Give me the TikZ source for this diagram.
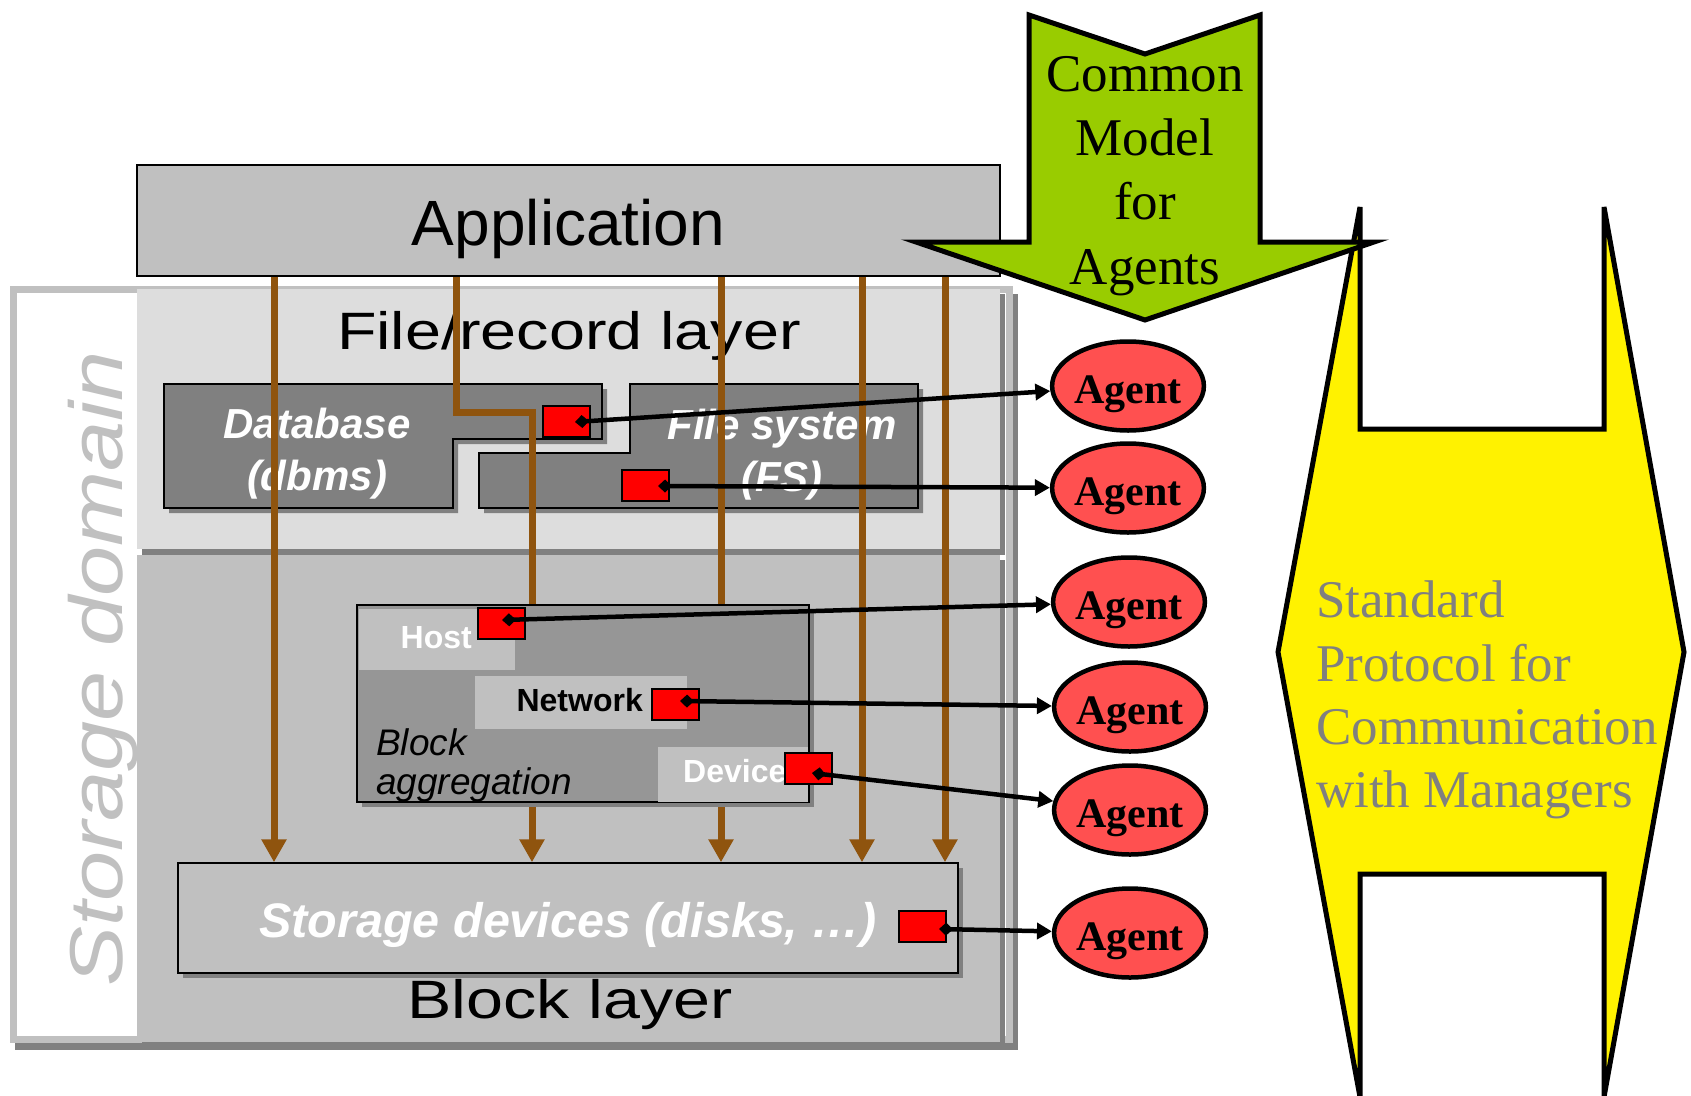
\documentclass[tikz,border=0pt]{standalone}
\usepackage{fontspec}
\setmainfont{Liberation Serif}
\setsansfont{Liberation Sans}
\newfontfamily\widesans[FakeStretch=1.23]{Liberation Sans}
\newfontfamily\domainsans[FakeStretch=1.2]{Liberation Sans}
\usetikzlibrary{arrows.meta,shapes.geometric,shadows}
\definecolor{brn}{RGB}{143,84,14}
\definecolor{lgray}{HTML}{C0C0C0}
\definecolor{dgray}{HTML}{808080}
\definecolor{pgray}{HTML}{DDDDDD}
\definecolor{mgray}{HTML}{969696}
\definecolor{grn}{HTML}{99CC00}
\definecolor{agentred}{HTML}{FF5050}
\newcommand{\fsz}[2]{\fontsize{#1}{#2}\selectfont}
\begin{document}
\begin{tikzpicture}[x=1pt,y=-1pt,
  shd/.style={drop shadow={shadow xshift=5pt,shadow yshift=-5pt,opacity=1,fill=dgray,draw=none}},
  brarrow/.style={draw=brn,line width=7pt,-{Triangle[length=23pt,width=24pt]}},
  conn/.style={draw=black,line width=4.5pt,{Diamond[length=14pt,width=13pt]}-{Triangle[length=15pt,width=16pt]}},
  agent/.style={ellipse,draw=black,line width=4.5pt,fill=agentred,minimum width=150pt,minimum height=89pt,inner sep=0pt,font=\bfseries\fsz{42}{42},text height=34pt,text depth=0pt},
  redsq/.style={rectangle,draw=black,fill=red,line width=2pt,inner sep=0pt,minimum width=47pt,minimum height=31pt},
  bx/.style={rectangle,draw=black,line width=1.5pt,inner sep=0pt},
  lbl/.style={inner sep=0pt,font=\sffamily\bfseries\fsz{32}{32}},
]
\useasboundingbox (0,0) rectangle (1691,1095);

% yellow double arrow
\draw[line width=5pt,fill=yellow] (1360,207) -- (1360,429) -- (1604,429) -- (1604,207) -- (1684,652) -- (1604,1097) -- (1604,874) -- (1360,874) -- (1360,1097) -- (1278,652) -- cycle;
\node[anchor=west,align=left,inner sep=0pt,text=dgray,font=\fsz{53}{63.3}] (proto) at (1316,700) {Standard\\Protocol for\\Communication\\with Managers};

% storage domain frame
\fill[dgray] (15,294) rectangle (1018,1050);
\draw[line width=7pt,draw=lgray,fill=white] (13.5,289.5) rectangle (1009,1039.5);
\node[rotate=90,anchor=base west,inner sep=0pt,text=lgray,font=\domainsans\itshape\fsz{75}{75}] (sdom) at (122,987) {Storage domain};

% layer panels
\fill[dgray] (142,294) rectangle (1005,555);
\fill[pgray] (137,289) rectangle (1000,549);
\fill[dgray] (142,560) rectangle (1005,1047);
\fill[lgray] (137,555) rectangle (1000,1042);

% application
\node[bx,fill=lgray,minimum width=863pt,minimum height=111pt,font=\sffamily\fsz{64}{64},text height=49pt,text depth=0pt] (app) at (568.5,220.5) {Application};

% layer labels
\node[anchor=base,inner sep=0pt,font=\widesans\fsz{52.6}{52.6}] (frl) at (569,349) {File/record layer};
\node[anchor=base,inner sep=0pt,font=\widesans\fsz{54}{54}] (bl) at (570,1018) {Block layer};

% database and file system
\fill[dgray,xshift=5pt,yshift=-5pt] (164,384) -- (602,384) -- (602,439) -- (453,439) -- (453,508) -- (164,508) -- cycle;
\draw[line width=2pt,fill=dgray] (164,384) -- (602,384) -- (602,439) -- (453,439) -- (453,508) -- (164,508) -- cycle;
\fill[dgray,xshift=5pt,yshift=-5pt] (630,384) -- (918,384) -- (918,508) -- (479,508) -- (479,453) -- (630,453) -- cycle;
\draw[line width=2pt,fill=dgray] (630,384) -- (918,384) -- (918,508) -- (479,508) -- (479,453) -- (630,453) -- cycle;
\node[inner sep=0pt,align=center,text=white,font=\sffamily\bfseries\itshape\fsz{42}{52}] (dbt) at (317,454) {Database\\(dbms)};
\node[inner sep=0pt,align=center,text=white,font=\sffamily\bfseries\itshape\fsz{42}{52}] (fst) at (782,455) {File system\\(FS)};

% storage devices
\node[bx,fill=lgray,shd,minimum width=780pt,minimum height=110pt,text=white,font=\sffamily\bfseries\itshape\fsz{48.5}{48.5},text height=38pt,text depth=0pt] (sd) at (568,918) {Storage devices (disks, …)};

% brown flows
\coordinate (x1) at (274,0);
\coordinate (b1) at (456,412);
\coordinate (b2) at (532,412);
\coordinate (x3) at (721,0);
\coordinate (x4) at (862,0);
\coordinate (x5) at (945,0);
\draw[brarrow] (app.south -| x1) -- (sd.north -| x1);
\draw[brarrow] (app.south -| b1) -- (b1) -- (b2) -- (sd.north -| b2);
\draw[brarrow] (app.south -| x3) -- (sd.north -| x3);
\draw[brarrow] (app.south -| x4) -- (sd.north -| x4);
\draw[brarrow] (app.south -| x5) -- (sd.north -| x5);

% block aggregation
\node[bx,fill=mgray,shd,minimum width=452pt,minimum height=197pt,anchor=north west] (bagg) at (356,604) {};
\fill[lgray] (359,609) rectangle (515,670);
\fill[lgray] (475,676) rectangle (687,729);
\fill[lgray] (658,747) rectangle (808,802);
\node[lbl,text=white,anchor=base east] (host) at (472,648) {Host};
\node[lbl,text=black,anchor=base east] (net) at (643,711) {Network};
\node[lbl,text=white,anchor=base west] (dev) at (683,782) {Device};
\node[anchor=west,align=left,inner sep=0pt,font=\sffamily\itshape\fsz{37}{39}] (bat) at (376,765) {Block\\aggregation};

% red management points
\node[redsq] (rdb) at (566.5,421) {};
\node[redsq] (rfs) at (645.5,485.5) {};
\node[redsq] (rhost) at (501.5,623.5) {};
\node[redsq] (rnet) at (675,704.5) {};
\node[redsq] (rdev) at (808.5,768) {};
\node[redsq] (rsd) at (922,926.5) {};
\coordinate (d1) at (575,422);
\coordinate (d2) at (658,486);
\coordinate (d3) at (502,620);
\coordinate (d4) at (680,701);
\coordinate (d5) at (812,773);
\coordinate (d6) at (939,929);

% agents
\node[agent] (a1) at (1128,386) {Agent};
\node[agent] (a2) at (1128,488) {Agent};
\node[agent] (a3) at (1129,602) {Agent};
\node[agent] (a4) at (1130,707) {Agent};
\node[agent] (a5) at (1130,810) {Agent};
\node[agent] (a6) at (1130,933) {Agent};

\draw[conn] (d1) -- (a1);
\draw[conn] (d2) -- (a2);
\draw[conn] (d3) -- (a3);
\draw[conn] (d4) -- (a4);
\draw[conn] (d5) -- (a5);
\draw[conn] (d6) -- (a6);

% green arrow
\draw[line width=5pt,fill=grn] (1029,15) -- (1145,54) -- (1260,15) -- (1260,242) -- (1374,242) -- (1145,320) -- (916,242) -- (1029,242) -- cycle;
\node[align=center,inner sep=0pt,font=\fsz{53}{64.3}] (cm) at (1145,176) {Common\\Model\\for\\Agents};
\end{tikzpicture}
\end{document}
